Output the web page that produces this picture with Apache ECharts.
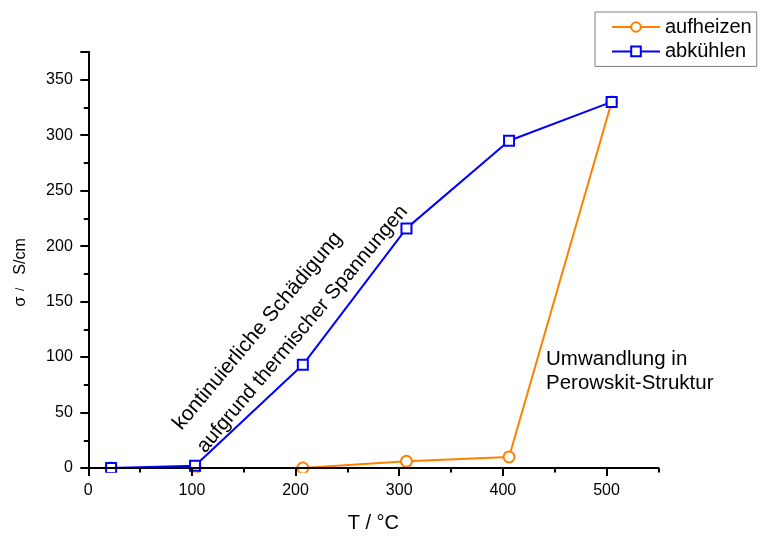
<!DOCTYPE html>
<html>
<head>
<meta charset="utf-8">
<script src="https://cdn.jsdelivr.net/npm/echarts@6/dist/echarts.min.js"></script>
<style>
  html, body { margin: 0; padding: 0; background: #fff; }
  #chart { width: 762px; height: 538px; }
</style>
</head>
<body>
<div id="chart"></div>
<script>
// Conductivity during heating and cooling
const temperatures = [22, 103, 207, 307, 406, 505];      // T / °C
const heating = [0, 0, 0, 6, 10, 330];                    // aufheizen, σ / S/cm
const cooling = [0, 2, 93, 216, 295, 330];                // abkühlen, σ / S/cm

const xMajorTicks = [0, 100, 200, 300, 400, 500];
const xMinorTicks = [50, 150, 250, 350, 450, 550];
const yLabels = [0, 50, 100, 150, 200, 250, 300, 350];
const yMajorTicks = [0, 50, 100, 150, 200, 250, 300, 350, 375];
const yMinorTicks = [25, 75, 125, 175, 225, 275, 325];

const FONT = 'Arial, "Liberation Sans", sans-serif';
const ORANGE = '#ff8000';
const BLUE = '#0000ff';

const pairs = (xs, ys) => xs.map((x, i) => [x, ys[i]]);

const chart = echarts.init(document.getElementById('chart'), null, { renderer: 'canvas' });

const GRID = { left: 88.3, top: 52, width: 570, height: 419.7 };
const X_MAX = 550, Y_MAX = 375;

function axisBase(extra) {
  return Object.assign({
    type: 'value',
    gridIndex: 0,
    min: 0,
    splitLine: { show: false },
    axisLine: { show: true, lineStyle: { color: '#000', width: 2 } }
  }, extra);
}

const option = {
  animation: false,
  backgroundColor: '#fff',
  textStyle: { fontFamily: FONT, color: '#000' },
  grid: { left: GRID.left, top: GRID.top, width: GRID.width, height: GRID.height, containLabel: false },
  legend: {
    orient: 'vertical',
    left: 595,
    top: 12,
    padding: [5, 5, 5, 16],
    itemGap: 4.4,
    itemWidth: 48,
    itemHeight: 12,
    borderColor: '#7f7f7f',
    borderWidth: 1,
    borderRadius: 0,
    textStyle: { fontFamily: FONT, fontSize: 20, color: '#000', lineHeight: 20 },
    data: ['aufheizen', 'abkühlen']
  },
  xAxis: [
    axisBase({
      max: X_MAX,
      position: 'bottom',
      z: 10,
      name: 'T / °C',
      nameLocation: 'middle',
      nameGap: 45,
      nameTextStyle: { fontFamily: FONT, fontSize: 20, color: '#000' },
      axisTick: { show: true, customValues: xMajorTicks, length: 8, lineStyle: { color: '#000', width: 2 } },
      axisLabel: { show: true, customValues: xMajorTicks, fontSize: 16, color: '#000', margin: 14.5, fontFamily: FONT }
    }),
    axisBase({
      max: X_MAX,
      position: 'bottom',
      z: 10,
      axisTick: { show: true, customValues: xMinorTicks, length: 4.5, lineStyle: { color: '#000', width: 2 } },
      axisLabel: { show: false }
    })
  ],
  yAxis: [
    axisBase({
      max: Y_MAX,
      position: 'left',
      z: 10,
      name: '{s|σ}{sl|/}{u|S/cm}',
      nameLocation: 'middle',
      nameGap: 59,
      nameRotate: 90,
      nameTextStyle: {
        fontFamily: FONT, color: '#000', padding: [0, 25, 0, 0],
        rich: {
          s: { fontSize: 16.5, fontFamily: FONT, color: '#000' },
          sl: { fontSize: 12, fontFamily: FONT, color: '#000', padding: [0, 13, 0, 5.5] },
          u: { fontSize: 16, fontFamily: FONT, color: '#000' }
        }
      },
      axisTick: { show: true, customValues: yMajorTicks, length: 8, lineStyle: { color: '#000', width: 2 } },
      axisLabel: { show: true, customValues: yLabels, fontSize: 16, color: '#000', margin: 15.5, fontFamily: FONT }
    }),
    axisBase({
      max: Y_MAX,
      position: 'left',
      z: 10,
      axisTick: { show: true, customValues: yMinorTicks, length: 4.5, lineStyle: { color: '#000', width: 2 } },
      axisLabel: { show: false }
    })
  ],
  series: [
    {
      name: 'aufheizen',
      type: 'line',
      xAxisIndex: 0,
      yAxisIndex: 0,
      data: pairs(temperatures, heating),
      color: ORANGE,
      symbol: 'emptyCircle',
      symbolSize: 11,
      lineStyle: { color: ORANGE, width: 2 },
      itemStyle: { color: ORANGE, borderColor: '#ff9c3a', borderWidth: 1 },
      z: 2
    },
    {
      name: 'abkühlen',
      type: 'line',
      xAxisIndex: 0,
      yAxisIndex: 0,
      data: pairs(temperatures, cooling),
      color: BLUE,
      symbol: 'emptyRect',
      symbolSize: 10,
      lineStyle: { color: BLUE, width: 2 },
      itemStyle: { color: BLUE, borderColor: '#5a5aff', borderWidth: 1 },
      z: 3
    }
  ],
  graphic: [
    // masks marker parts falling below the x axis, like a clipped plot area
    {
      type: 'rect',
      z: 5,
      silent: true,
      shape: { x: GRID.left + 1, y: GRID.top + GRID.height + 1, width: GRID.width + 10, height: 20 },
      style: { fill: '#fff' }
    },
    {
      type: 'text',
      z: 6,
      x: 546,
      y: 371,
      style: {
        text: 'Umwandlung in\nPerowskit-Struktur',
        font: '20.5px ' + FONT,
        fill: '#000',
        align: 'left',
        verticalAlign: 'middle',
        lineHeight: 24.3
      }
    },
    {
      type: 'text',
      z: 6,
      x: 177,
      y: 427,
      rotation: 50 * Math.PI / 180,
      style: {
        text: 'kontinuierliche Schädigung',
        font: '21px ' + FONT,
        fill: '#000',
        align: 'left',
        verticalAlign: 'middle'
      }
    },
    {
      type: 'text',
      z: 6,
      x: 201,
      y: 450,
      rotation: 50 * Math.PI / 180,
      style: {
        text: 'aufgrund thermischer Spannungen',
        font: '20.5px ' + FONT,
        fill: '#000',
        align: 'left',
        verticalAlign: 'middle'
      }
    }
  ]
};

chart.setOption(option);
</script>
</body>
</html>
